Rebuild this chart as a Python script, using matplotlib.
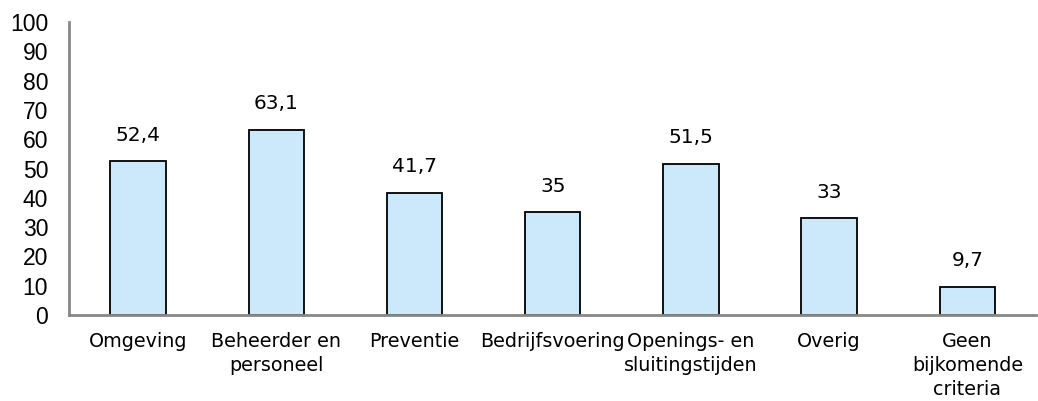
import matplotlib

matplotlib.use("Agg")
import matplotlib.pyplot as plt

categories = [
    "Omgeving",
    "Beheerder en\npersoneel",
    "Preventie",
    "Bedrijfsvoering",
    "Openings- en\nsluitingstijden",
    "Overig",
    "Geen\nbijkomende\ncriteria",
]
values = [52.4, 63.1, 41.7, 35, 51.5, 33, 9.7]
value_labels = ["52,4", "63,1", "41,7", "35", "51,5", "33", "9,7"]
yticks = list(range(0, 101, 10))

LABEL_FONT = "DejaVu Sans"
TICK_FONT = "Liberation Sans"

fig = plt.figure(figsize=(10.38, 4.01), dpi=100)
ax = fig.add_axes([0.0665, 0.2145, 0.932, 0.7305])

x = list(range(len(categories)))
ax.bar(x, values, width=0.40, color="#cce9fc", edgecolor="black", linewidth=1.3, zorder=2)

for xi, v, lab in zip(x, values, value_labels):
    ax.annotate(lab, (xi, v), xytext=(0, 12), textcoords="offset points",
                ha="center", va="bottom", fontsize=14.5, family=LABEL_FONT)

ax.set_xlim(-0.5, len(categories) - 0.5)
ax.set_ylim(0, 100)
ax.set_yticks(yticks)
ax.set_yticklabels([str(t) for t in yticks], fontsize=16.5, family=TICK_FONT)
ax.set_xticks(x)
ax.set_xticklabels(categories, fontsize=13.8, family=LABEL_FONT, linespacing=1.35)
ax.tick_params(axis="y", length=0, pad=15)
ax.tick_params(axis="x", length=0, pad=12)

for side in ("top", "right"):
    ax.spines[side].set_visible(False)
for side in ("left", "bottom"):
    ax.spines[side].set_color("#888888")
    ax.spines[side].set_linewidth(2)

fig.savefig("out.png", dpi=100)
